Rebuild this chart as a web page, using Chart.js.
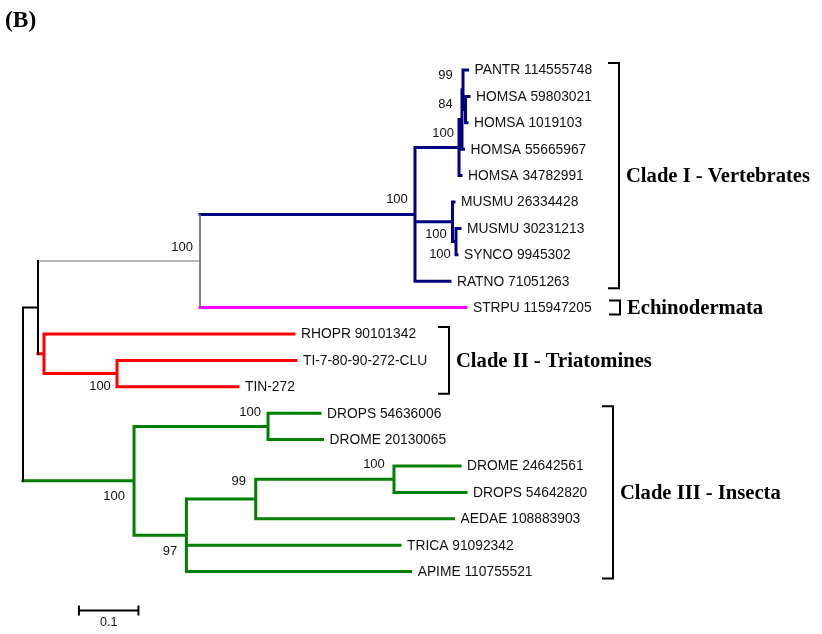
<!DOCTYPE html>
<html>
<head>
<meta charset="utf-8">
<script src="https://cdn.jsdelivr.net/npm/chart.js@4.4.1/dist/chart.umd.min.js"></script>
<style>
  html, body { margin: 0; padding: 0; background: #fff; }
  #wrap { width: 822px; height: 634px; position: relative; }
</style>
</head>
<body>
<div id="wrap"><canvas id="tree"></canvas></div>
<script>
// leaves, top to bottom (row index = position in list)
const taxa = [
  'PANTR 114555748', 'HOMSA 59803021', 'HOMSA 1019103', 'HOMSA 55665967',
  'HOMSA 34782991', 'MUSMU 26334428', 'MUSMU 30231213', 'SYNCO 9945302',
  'RATNO 71051263', 'STRPU 115947205', 'RHOPR 90101342', 'TI-7-80-90-272-CLU',
  'TIN-272', 'DROPS 54636006', 'DROME 20130065', 'DROME 24642561',
  'DROPS 54642820', 'AEDAE 108883903', 'TRICA 91092342', 'APIME 110755521'
];
// distance from root (substitutions per site)
const taxonDepth = [
  0.7471, 0.7496, 0.7462, 0.7403, 0.7361, 0.7244, 0.7345, 0.7294,
  0.7176, 0.7445, 0.4555, 0.4588, 0.3613, 0.4992, 0.5034, 0.7345,
  0.7445, 0.7237, 0.6336, 0.6516
];
const taxonGroup = [
  'blue', 'blue', 'blue', 'blue', 'blue', 'blue', 'blue', 'blue', 'blue',
  'magenta', 'red', 'red', 'red',
  'green', 'green', 'green', 'green', 'green', 'green', 'green'
];

// internal nodes
const nodeNames = ['root', 'A', 'D', 'V', 'P', 'S', 'Q', 'R', 'M', 'N', 'T', 'TI', 'I', 'DD', 'N97', 'N99', 'N100d'];
const nodeDepth = [0, 0.0252, 0.2975, 0.6588, 0.7328, 0.7378, 0.7395, 0.7437, 0.7218, 0.7277,
                   0.0353, 0.158, 0.1866, 0.4118, 0.2746, 0.3911, 0.6235];
const nodeChildren = [
  ['A', 'I'],
  ['D', 'T'],
  ['V', 'STRPU 115947205'],
  ['P', 'M', 'RATNO 71051263'],
  ['S', 'HOMSA 34782991'],
  ['Q', 'HOMSA 55665967'],
  ['PANTR 114555748', 'R'],
  ['HOMSA 59803021', 'HOMSA 1019103'],
  ['MUSMU 26334428', 'N'],
  ['MUSMU 30231213', 'SYNCO 9945302'],
  ['RHOPR 90101342', 'TI'],
  ['TI-7-80-90-272-CLU', 'TIN-272'],
  ['DD', 'N97'],
  ['DROPS 54636006', 'DROME 20130065'],
  ['N99', 'TRICA 91092342', 'APIME 110755521'],
  ['N100d', 'AEDAE 108883903'],
  ['DROME 24642561', 'DROPS 54642820']
];
const nodeGroup = ['black', 'black', 'gray', 'blue', 'blue', 'blue', 'blue', 'blue', 'blue', 'blue',
                   'red', 'red', 'green', 'green', 'green', 'green', 'green'];

// bootstrap support
const bootNode  = ['D', 'V', 'P', 'Q', 'R', 'M', 'N', 'TI', 'I', 'DD', 'N97', 'N99', 'N100d'];
const bootValue = ['100', '100', '100', '99', '84', '100', '100', '100', '100', '100', '97', '99', '100'];
// label centre offsets from the node, px
const bootOffset = [[-18, -14], [-18, -15], [-16, -14.5], [-17.5, -14], [-20, -5], [-16.5, 13], [-16, 12.5],
                    [-17, 13], [-20, 16], [-18, -14], [-16.5, 16], [-17, -18], [-20, -15]];

// clade brackets
const cladeNames = ['Clade I - Vertebrates', 'Echinodermata', 'Clade II - Triatomines', 'Clade III - Insecta'];
const cladeFirst = [0, 9, 10, 13];
const cladeLast  = [8, 9, 12, 19];
const cladeBracketX = [619, 620, 449, 613];

const scaleBarStart = 0.094;
const scaleBarLength = 0.1;

const groupStyle = {
  black:   { color: '#000000', width: 2 },
  gray:    { color: '#707070', width: 1 },
  blue:    { color: '#000080', width: 3 },
  magenta: { color: '#ff00ff', width: 3 },
  red:     { color: '#ff0000', width: 3 },
  green:   { color: '#008000', width: 3 }
};

function isNode(id) { return nodeNames.indexOf(id) >= 0; }
function depthOf(id) {
  return isNode(id) ? nodeDepth[nodeNames.indexOf(id)] : taxonDepth[taxa.indexOf(id)];
}
function rowOf(id) {
  if (!isNode(id)) return taxa.indexOf(id);
  const kids = nodeChildren[nodeNames.indexOf(id)];
  return (rowOf(kids[0]) + rowOf(kids[kids.length - 1])) / 2;
}
function groupOf(id) {
  return isNode(id) ? nodeGroup[nodeNames.indexOf(id)] : taxonGroup[taxa.indexOf(id)];
}

// collect segments per colour group, separated by gaps
const segs = {};
Object.keys(groupStyle).forEach(g => segs[g] = []);
function addSeg(g, x1, y1, x2, y2) {
  if (segs[g].length) segs[g].push({ x: null, y: null });
  segs[g].push({ x: x1, y: y1 }, { x: x2, y: y2 });
}
nodeNames.forEach((n, i) => {
  const kids = nodeChildren[i];
  const d = nodeDepth[i];
  addSeg(nodeGroup[i], d, rowOf(kids[0]), d, rowOf(kids[kids.length - 1]));
  kids.forEach(k => addSeg(groupOf(k), d, rowOf(k), depthOf(k), rowOf(k)));
});

const datasets = Object.keys(groupStyle).map(g => ({
  label: g,
  data: segs[g],
  showLine: true,
  spanGaps: false,
  borderColor: groupStyle[g].color,
  borderWidth: groupStyle[g].width,
  borderCapStyle: groupStyle[g].width > 1 ? 'square' : 'butt',
  borderJoinStyle: 'miter',
  pointRadius: 0,
  pointHoverRadius: 0,
  tension: 0,
  fill: false,
  clip: false
}));

const treeText = {
  id: 'treeText',
  afterDatasetsDraw(chart) {
    const { ctx, scales: { x, y } } = chart;
    ctx.save();
    ctx.fillStyle = '#111';
    ctx.textBaseline = 'middle';

    // leaf names
    ctx.textAlign = 'left';
    ctx.font = '13.8px "Liberation Sans", Arial, sans-serif';
    taxa.forEach((t, i) => {
      ctx.fillText(t, x.getPixelForValue(taxonDepth[i]) + 7, y.getPixelForValue(i) + 0.5);
    });

    // bootstrap values
    ctx.textAlign = 'center';
    ctx.font = '13px "Liberation Sans", Arial, sans-serif';
    bootNode.forEach((n, i) => {
      const px = x.getPixelForValue(depthOf(n)) + bootOffset[i][0];
      const py = y.getPixelForValue(rowOf(n)) + bootOffset[i][1];
      ctx.fillText(bootValue[i], px, py);
    });

    // clade brackets and names
    ctx.strokeStyle = '#000';
    ctx.lineWidth = 2;
    ctx.textAlign = 'left';
    ctx.font = 'bold 20.6px "Liberation Serif", "Times New Roman", serif';
    cladeNames.forEach((c, i) => {
      const bx = cladeBracketX[i];
      const top = y.getPixelForValue(cladeFirst[i]) - 7;
      const bot = y.getPixelForValue(cladeLast[i]) + 7;
      ctx.beginPath();
      ctx.moveTo(bx - 11, top);
      ctx.lineTo(bx, top);
      ctx.lineTo(bx, bot);
      ctx.lineTo(bx - 11, bot);
      ctx.stroke();
      ctx.fillStyle = '#000';
      ctx.fillText(c, bx + 7, (top + bot) / 2 + 1);
    });

    // panel letter
    ctx.font = 'bold 23.5px "Liberation Serif", "Times New Roman", serif';
    ctx.fillText('(B)', 5, 21);

    // scale bar
    const sx1 = x.getPixelForValue(scaleBarStart);
    const sx2 = x.getPixelForValue(scaleBarStart + scaleBarLength);
    const sy = y.getPixelForValue(taxa.length - 1) + 39;
    ctx.lineWidth = 2;
    ctx.beginPath();
    ctx.moveTo(sx1, sy); ctx.lineTo(sx2, sy);
    ctx.moveTo(sx1, sy - 5); ctx.lineTo(sx1, sy + 5);
    ctx.moveTo(sx2, sy - 5); ctx.lineTo(sx2, sy + 5);
    ctx.stroke();
    ctx.textAlign = 'center';
    ctx.font = '12.5px "Liberation Sans", Arial, sans-serif';
    ctx.fillStyle = '#111';
    ctx.fillText(String(scaleBarLength), (sx1 + sx2) / 2, sy + 12);
    ctx.restore();
  }
};

new Chart(document.getElementById('tree').getContext('2d'), {
  type: 'scatter',
  data: { datasets: datasets },
  options: {
    responsive: true,
    maintainAspectRatio: false,
    animation: false,
    events: [],
    layout: { padding: { left: 23, right: 0, top: 70, bottom: 62.4 } },
    scales: {
      x: { type: 'linear', display: false, min: 0, max: 799 / 595 },
      y: { type: 'linear', display: false, min: 0, max: taxa.length - 1, reverse: true }
    },
    plugins: {
      legend: { display: false },
      tooltip: { enabled: false }
    }
  },
  plugins: [treeText]
});
</script>
</body>
</html>
